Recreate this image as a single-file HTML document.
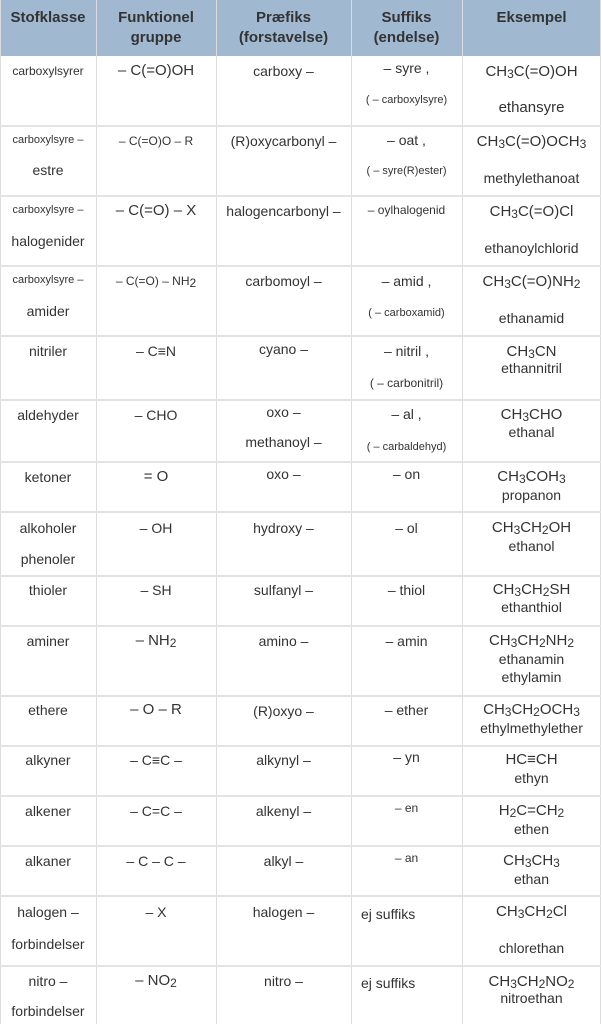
<!DOCTYPE html>
<html><head><meta charset="utf-8">
<style>
body{margin:0;width:601px;height:1024px;background:#fff;overflow:hidden;position:relative;font-family:"Liberation Sans",sans-serif;color:#333}
.hd{position:absolute;left:0;top:0;width:601px;height:56px;background:#a1b8d1}
.v{position:absolute;top:0;height:1024px;width:1px;background:#dcdcdc}
.h{position:absolute;left:0;width:601px;height:2px;background:#e3e3e3}
.t{position:absolute;height:18px;line-height:18px;text-align:center;white-space:nowrap;font-size:14px}
.c1{left:0;width:96px}.c2{left:96px;width:120px}.c3{left:216px;width:135px}.c4{left:351px;width:111px}.c5{left:462px;width:139px}
.s{font-size:12px}.xs{font-size:11px}.f{font-size:15px}
.th{font-weight:bold;font-size:15px;color:#333}
sub{font-size:12px;vertical-align:-2px;line-height:0}
.l{text-align:left;padding-left:10px;box-sizing:border-box}
</style></head><body>
<div class="hd"></div>
<div class="v" style="left:0"></div>
<div class="v" style="left:96px"></div>
<div class="v" style="left:216px"></div>
<div class="v" style="left:351px"></div>
<div class="v" style="left:462px"></div>
<div class="v" style="left:600px"></div>
<div class="h" style="top:125px"></div>
<div class="h" style="top:195px"></div>
<div class="h" style="top:265px"></div>
<div class="h" style="top:335px"></div>
<div class="h" style="top:399px"></div>
<div class="h" style="top:461px"></div>
<div class="h" style="top:511px"></div>
<div class="h" style="top:575px"></div>
<div class="h" style="top:625px"></div>
<div class="h" style="top:695px"></div>
<div class="h" style="top:745px"></div>
<div class="h" style="top:795px"></div>
<div class="h" style="top:845px"></div>
<div class="h" style="top:895px"></div>
<div class="h" style="top:965px"></div>

<div class="t th c1" style="top:9px">Stofklasse</div>
<div class="t th c2" style="top:9px">Funktionel</div>
<div class="t th c2" style="top:29px">gruppe</div>
<div class="t th c3" style="top:9px">Præfiks</div>
<div class="t th c3" style="top:29px">(forstavelse)</div>
<div class="t th c4" style="top:9px">Suffiks</div>
<div class="t th c4" style="top:29px">(endelse)</div>
<div class="t th c5" style="top:9px">Eksempel</div>

<!-- row 1 -->
<div class="t c1 s" style="top:62px">carboxylsyrer</div>
<div class="t c2 f" style="top:62px">– C(=O)OH</div>
<div class="t c3" style="top:62px">carboxy –</div>
<div class="t c4" style="top:59px">– syre ,</div>
<div class="t c4 xs" style="top:91px">( – carboxylsyre)</div>
<div class="t c5 f" style="top:63px">CH<sub>3</sub>C(=O)OH</div>
<div class="t c5 f" style="top:99px">ethansyre</div>
<!-- row 2 -->
<div class="t c1 xs" style="top:131px">carboxylsyre –</div>
<div class="t c1" style="top:161px">estre</div>
<div class="t c2 s" style="top:132px">– C(=O)O – R</div>
<div class="t c3" style="top:132px">(R)oxycarbonyl –</div>
<div class="t c4" style="top:131px">– oat ,</div>
<div class="t c4 xs" style="top:162px">( – syre(R)ester)</div>
<div class="t c5 f" style="top:133px">CH<sub>3</sub>C(=O)OCH<sub>3</sub></div>
<div class="t c5" style="top:169px">methylethanoat</div>
<!-- row 3 -->
<div class="t c1 xs" style="top:201px">carboxylsyre –</div>
<div class="t c1" style="top:232px">halogenider</div>
<div class="t c2 f" style="top:202px">– C(=O) – X</div>
<div class="t c3" style="top:202px">halogencarbonyl –</div>
<div class="t c4 s" style="top:201px">– oylhalogenid</div>
<div class="t c5 f" style="top:203px">CH<sub>3</sub>C(=O)Cl</div>
<div class="t c5" style="top:239px">ethanoylchlorid</div>
<!-- row 4 -->
<div class="t c1 xs" style="top:271px">carboxylsyre –</div>
<div class="t c1" style="top:302px">amider</div>
<div class="t c2 s" style="top:272px">– C(=O) – NH<sub>2</sub></div>
<div class="t c3" style="top:272px">carbomoyl –</div>
<div class="t c4" style="top:272px">– amid ,</div>
<div class="t c4 xs" style="top:304px">( – carboxamid)</div>
<div class="t c5 f" style="top:273px">CH<sub>3</sub>C(=O)NH<sub>2</sub></div>
<div class="t c5" style="top:309px">ethanamid</div>
<!-- row 5 -->
<div class="t c1" style="top:342px">nitriler</div>
<div class="t c2" style="top:342px">– C≡N</div>
<div class="t c3" style="top:340px">cyano –</div>
<div class="t c4" style="top:342px">– nitril ,</div>
<div class="t c4 s" style="top:374px">( – carbonitril)</div>
<div class="t c5 f" style="top:343px">CH<sub>3</sub>CN</div>
<div class="t c5" style="top:359px">ethannitril</div>
<!-- row 6 -->
<div class="t c1" style="top:406px">aldehyder</div>
<div class="t c2" style="top:406px">– CHO</div>
<div class="t c3" style="top:403px">oxo –</div>
<div class="t c3" style="top:433px">methanoyl –</div>
<div class="t c4" style="top:405px">– al ,</div>
<div class="t c4 xs" style="top:438px">( – carbaldehyd)</div>
<div class="t c5 f" style="top:406px">CH<sub>3</sub>CHO</div>
<div class="t c5" style="top:423px">ethanal</div>
<!-- row 7 -->
<div class="t c1" style="top:468px">ketoner</div>
<div class="t c2 f" style="top:468px">= O</div>
<div class="t c3" style="top:465px">oxo –</div>
<div class="t c4" style="top:465px">– on</div>
<div class="t c5 f" style="top:468px">CH<sub>3</sub>COH<sub>3</sub></div>
<div class="t c5" style="top:486px">propanon</div>
<!-- row 8 -->
<div class="t c1" style="top:519px">alkoholer</div>
<div class="t c1" style="top:550px">phenoler</div>
<div class="t c2" style="top:519px">– OH</div>
<div class="t c3" style="top:519px">hydroxy –</div>
<div class="t c4" style="top:519px">– ol</div>
<div class="t c5 f" style="top:519px">CH<sub>3</sub>CH<sub>2</sub>OH</div>
<div class="t c5" style="top:537px">ethanol</div>
<!-- row 9 -->
<div class="t c1" style="top:581px">thioler</div>
<div class="t c2" style="top:581px">– SH</div>
<div class="t c3" style="top:581px">sulfanyl –</div>
<div class="t c4" style="top:581px">– thiol</div>
<div class="t c5 f" style="top:581px">CH<sub>3</sub>CH<sub>2</sub>SH</div>
<div class="t c5" style="top:598px">ethanthiol</div>
<!-- row 10 -->
<div class="t c1" style="top:632px">aminer</div>
<div class="t c2 f" style="top:632px">– NH<sub>2</sub></div>
<div class="t c3" style="top:632px">amino –</div>
<div class="t c4" style="top:632px">– amin</div>
<div class="t c5 f" style="top:632px">CH<sub>3</sub>CH<sub>2</sub>NH<sub>2</sub></div>
<div class="t c5" style="top:650px">ethanamin</div>
<div class="t c5" style="top:668px">ethylamin</div>
<!-- row 11 -->
<div class="t c1" style="top:701px">ethere</div>
<div class="t c2 f" style="top:701px">– O – R</div>
<div class="t c3" style="top:702px">(R)oxyo –</div>
<div class="t c4" style="top:701px">– ether</div>
<div class="t c5 f" style="top:701px">CH<sub>3</sub>CH<sub>2</sub>OCH<sub>3</sub></div>
<div class="t c5" style="top:719px">ethylmethylether</div>
<!-- row 12 -->
<div class="t c1" style="top:751px">alkyner</div>
<div class="t c2" style="top:751px">– C≡C –</div>
<div class="t c3" style="top:751px">alkynyl –</div>
<div class="t c4" style="top:748px">– yn</div>
<div class="t c5 f" style="top:751px">HC≡CH</div>
<div class="t c5" style="top:769px">ethyn</div>
<!-- row 13 -->
<div class="t c1" style="top:802px">alkener</div>
<div class="t c2" style="top:802px">– C=C –</div>
<div class="t c3" style="top:802px">alkenyl –</div>
<div class="t c4 s" style="top:799px">– en</div>
<div class="t c5 f" style="top:802px">H<sub>2</sub>C=CH<sub>2</sub></div>
<div class="t c5" style="top:820px">ethen</div>
<!-- row 14 -->
<div class="t c1" style="top:852px">alkaner</div>
<div class="t c2" style="top:852px">– C – C –</div>
<div class="t c3" style="top:852px">alkyl –</div>
<div class="t c4 s" style="top:849px">– an</div>
<div class="t c5 f" style="top:852px">CH<sub>3</sub>CH<sub>3</sub></div>
<div class="t c5" style="top:870px">ethan</div>
<!-- row 15 -->
<div class="t c1" style="top:903px">halogen –</div>
<div class="t c1" style="top:935px">forbindelser</div>
<div class="t c2" style="top:903px">– X</div>
<div class="t c3" style="top:903px">halogen –</div>
<div class="t c4 l" style="top:905px">ej suffiks</div>
<div class="t c5 f" style="top:903px">CH<sub>3</sub>CH<sub>2</sub>Cl</div>
<div class="t c5" style="top:939px">chlorethan</div>
<!-- row 16 -->
<div class="t c1" style="top:972px">nitro –</div>
<div class="t c1" style="top:1002px">forbindelser</div>
<div class="t c2 f" style="top:972px">– NO<sub>2</sub></div>
<div class="t c3" style="top:972px">nitro –</div>
<div class="t c4 l" style="top:974px">ej suffiks</div>
<div class="t c5 f" style="top:973px">CH<sub>3</sub>CH<sub>2</sub>NO<sub>2</sub></div>
<div class="t c5" style="top:989px">nitroethan</div>
</body></html>
